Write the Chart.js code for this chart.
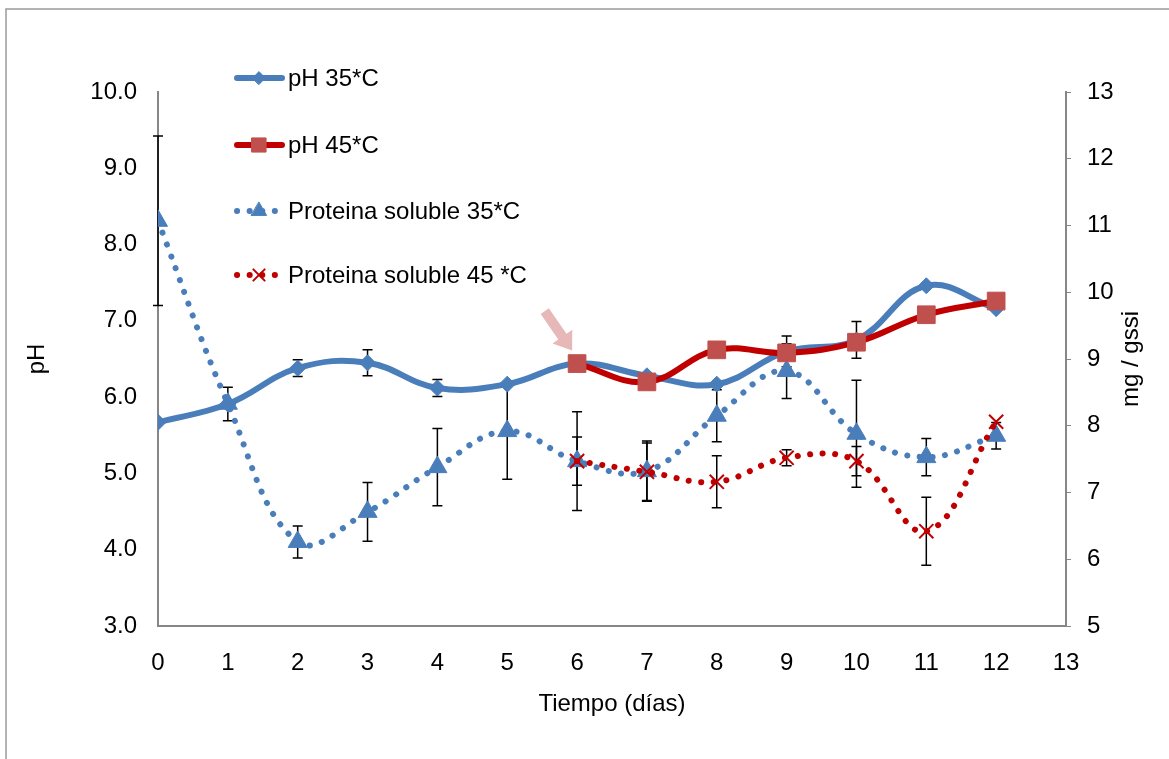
<!DOCTYPE html>
<html>
<head>
<meta charset="utf-8">
<script src="https://cdn.jsdelivr.net/npm/chart.js@4.4.0/dist/chart.umd.min.js"></script>
<style>
  body { margin: 0; background: #fff; }
  .wrap { width: 1169px; height: 759px; position: relative; }
</style>
</head>
<body>
<div class="wrap"><canvas id="chart"></canvas></div>
<script>
const days = [0, 1, 2, 3, 4, 5, 6, 7, 8, 9, 10, 11, 12]

// pH (left axis)
const ph35 = [5.67, 5.91, 6.38, 6.45, 6.12, 6.17, 6.44, 6.28, 6.17, 6.60, 6.75, 7.46, 7.16]
const ph45 = [null, null, null, null, null, null, 6.44, 6.20, 6.62, 6.58, 6.72, 7.08, 7.26]
const ph35Err = [null, 0.22, 0.11, 0.17, 0.11, null, 0.1, null, null, 0.2, 0.24, null, null]

// proteina soluble, mg / gssi (right axis)
const prot35 = [11.07, 8.33, 6.26, 6.71, 7.38, 7.92, 7.47, 7.32, 8.15, 8.82, 7.88, 7.53, 7.85]
const prot45 = [null, null, null, null, null, null, 7.47, 7.31, 7.16, 7.52, 7.47, 6.42, 8.06]
const prot35Err = [1.27, null, 0.24, 0.44, 0.58, 0.72, 0.74, 0.45, 0.39, 0.41, 0.8, 0.28, 0.2]
const prot45Err = [null, null, null, null, null, null, 0.36, 0.43, 0.39, 0.12, 0.22, 0.51, null]

const phTicks = [3, 4, 5, 6, 7, 8, 9, 10]
const mgTicks = [5, 6, 7, 8, 9, 10, 11, 12, 13]

const FONT = 'Liberation Sans, Arial, sans-serif'
const SIZE = 24
const blue = '#4a7ebb'
const red = '#c00000'
const redFill = '#c0504d'

function pts(arr) {
  return days.map((d, i) => ({ x: d, y: arr[i] }))
}

const datasets = [
  {
    label: 'pH 35*C', data: pts(ph35), errors: ph35Err, yAxisID: 'y', order: 1,
    borderColor: blue, borderWidth: 6, tension: 0.4,
    pointStyle: 'rectRot', pointRadius: 8, pointBackgroundColor: blue, pointBorderColor: blue, pointBorderWidth: 1
  },
  {
    label: 'pH 45*C', data: pts(ph45), yAxisID: 'y', order: 0,
    borderColor: red, borderWidth: 6, tension: 0.4,
    pointStyle: 'rect', pointRadius: 12.5, pointBackgroundColor: redFill, pointBorderColor: redFill, pointBorderWidth: 1
  },
  {
    label: 'Proteina soluble 35*C', data: pts(prot35), errors: prot35Err, yAxisID: 'y2', order: 3,
    borderColor: blue, borderWidth: 6, borderDash: [0.1, 12.5], borderCapStyle: 'round', tension: 0.4,
    pointStyle: 'triangle', pointRadius: 11, pointBackgroundColor: blue, pointBorderColor: blue, pointBorderWidth: 1
  },
  {
    label: 'Proteina soluble 45 *C', data: pts(prot45), errors: prot45Err, yAxisID: 'y2', order: 2,
    borderColor: red, borderWidth: 6, borderDash: [0.1, 12.5], borderCapStyle: 'round', tension: 0.4,
    pointStyle: 'crossRot', pointRadius: 10, pointBackgroundColor: red, pointBorderColor: red, pointBorderWidth: 2
  }
]

// black error bars drawn under the markers
const errorBars = {
  id: 'errorBars',
  beforeDatasetsDraw(chart) {
    const ctx = chart.ctx
    const xs = chart.scales.x
    ctx.save()
    ctx.strokeStyle = '#000'
    ctx.lineWidth = 1.5
    chart.data.datasets.forEach(ds => {
      if (!ds.errors) return
      const ys = chart.scales[ds.yAxisID]
      ds.data.forEach((p, j) => {
        const e = ds.errors[j]
        if (p.y == null || e == null) return
        const x = xs.getPixelForValue(p.x)
        const t = ys.getPixelForValue(p.y + e)
        const b = ys.getPixelForValue(p.y - e)
        ctx.beginPath()
        ctx.moveTo(x, t); ctx.lineTo(x, b)
        ctx.moveTo(x - 5, t); ctx.lineTo(x + 5, t)
        ctx.moveTo(x - 5, b); ctx.lineTo(x + 5, b)
        ctx.stroke()
      })
    })
    ctx.restore()
  }
}

// frame, legend, right title and the pink arrow
const extras = {
  id: 'extras',
  beforeDraw(chart) {
    const ctx = chart.ctx
    ctx.save()
    ctx.strokeStyle = '#9a9a9a'
    ctx.lineWidth = 1.5
    ctx.beginPath()
    ctx.moveTo(6, 760); ctx.lineTo(6, 9); ctx.lineTo(1170, 9)
    ctx.stroke()
    ctx.restore()
  },
  afterDraw(chart) {
    const ctx = chart.ctx
    ctx.save()

    // legend inside the plot
    const rowY = [78, 145, 211, 275]
    chart.data.datasets.forEach((ds, i) => {
      const y = rowY[i]
      ctx.strokeStyle = ds.borderColor
      ctx.lineWidth = ds.borderWidth
      ctx.lineCap = 'round'
      ctx.setLineDash(ds.borderDash || [])
      ctx.beginPath()
      ctx.moveTo(237, y); ctx.lineTo(282, y)
      ctx.stroke()
      ctx.setLineDash([])
      ctx.fillStyle = ds.pointBackgroundColor
      ctx.strokeStyle = ds.pointBorderColor
      ctx.lineWidth = ds.pointBorderWidth
      Chart.helpers.drawPoint(ctx, { pointStyle: ds.pointStyle, radius: ds.pointRadius * 0.8, rotation: 0, borderWidth: ds.pointBorderWidth }, 259, y)
      ctx.fillStyle = '#000'
      ctx.font = SIZE + 'px ' + FONT
      ctx.textBaseline = 'middle'
      ctx.fillText(ds.label, 288, y + 1)
    })

    // right axis title, reading upward
    const ca = chart.chartArea
    ctx.translate(1131, (ca.top + ca.bottom) / 2)
    ctx.rotate(-Math.PI / 2)
    ctx.fillStyle = '#000'
    ctx.font = SIZE + 'px ' + FONT
    ctx.textAlign = 'center'
    ctx.textBaseline = 'middle'
    ctx.fillText('mg / gssi', 0, 0)
    ctx.setTransform(1, 0, 0, 1, 0, 0)

    // arrow pointing at the first pH 45 point
    const first = chart.getDatasetMeta(1).data[6]
    const tipX = first.x - 5, tipY = first.y - 13
    const ang = Math.atan2(39, 27)
    ctx.translate(tipX, tipY)
    ctx.rotate(ang)
    ctx.fillStyle = '#e6b9b8'
    ctx.beginPath()
    ctx.moveTo(0, 0)
    ctx.lineTo(-17, -12)
    ctx.lineTo(-17, -5)
    ctx.lineTo(-48, -5)
    ctx.lineTo(-48, 5)
    ctx.lineTo(-17, 5)
    ctx.lineTo(-17, 12)
    ctx.closePath()
    ctx.fill()
    ctx.restore()
  }
}

const axisBorder = { color: '#868686', width: 2 }
const tickFont = { family: FONT, size: SIZE }

new Chart(document.getElementById('chart'), {
  type: 'line',
  data: { datasets },
  options: {
    responsive: true,
    maintainAspectRatio: false,
    animation: false,
    layout: { padding: { top: 92 } },
    plugins: { legend: { display: false }, tooltip: { enabled: false } },
    scales: {
      x: {
        type: 'linear', min: 0, max: 13,
        grid: { display: false },
        border: axisBorder,
        ticks: { stepSize: 1, color: '#000', font: tickFont, padding: 15 },
        title: { display: true, text: 'Tiempo (días)', color: '#000', font: tickFont, padding: { bottom: 40 } },
        afterFit: s => { s.height = 133 }
      },
      y: {
        position: 'left', min: 3, max: 10,
        grid: { display: false },
        border: axisBorder,
        afterBuildTicks: s => { s.ticks = phTicks.map(v => ({ value: v })) },
        ticks: { color: '#000', font: tickFont, padding: 13, callback: v => v.toFixed(1) },
        title: { display: true, text: 'pH', color: '#000', font: tickFont, padding: { top: 23 } },
        afterFit: s => { s.width = 158 }
      },
      y2: {
        position: 'right', min: 5, max: 13,
        grid: { display: true, drawOnChartArea: false, tickLength: 5, color: '#868686', lineWidth: 1 },
        border: axisBorder,
        afterBuildTicks: s => { s.ticks = mgTicks.map(v => ({ value: v })) },
        ticks: { color: '#000', font: tickFont, padding: 16 },
        afterFit: s => { s.width = 103 }
      }
    }
  },
  plugins: [errorBars, extras]
})
</script>
</body>
</html>
